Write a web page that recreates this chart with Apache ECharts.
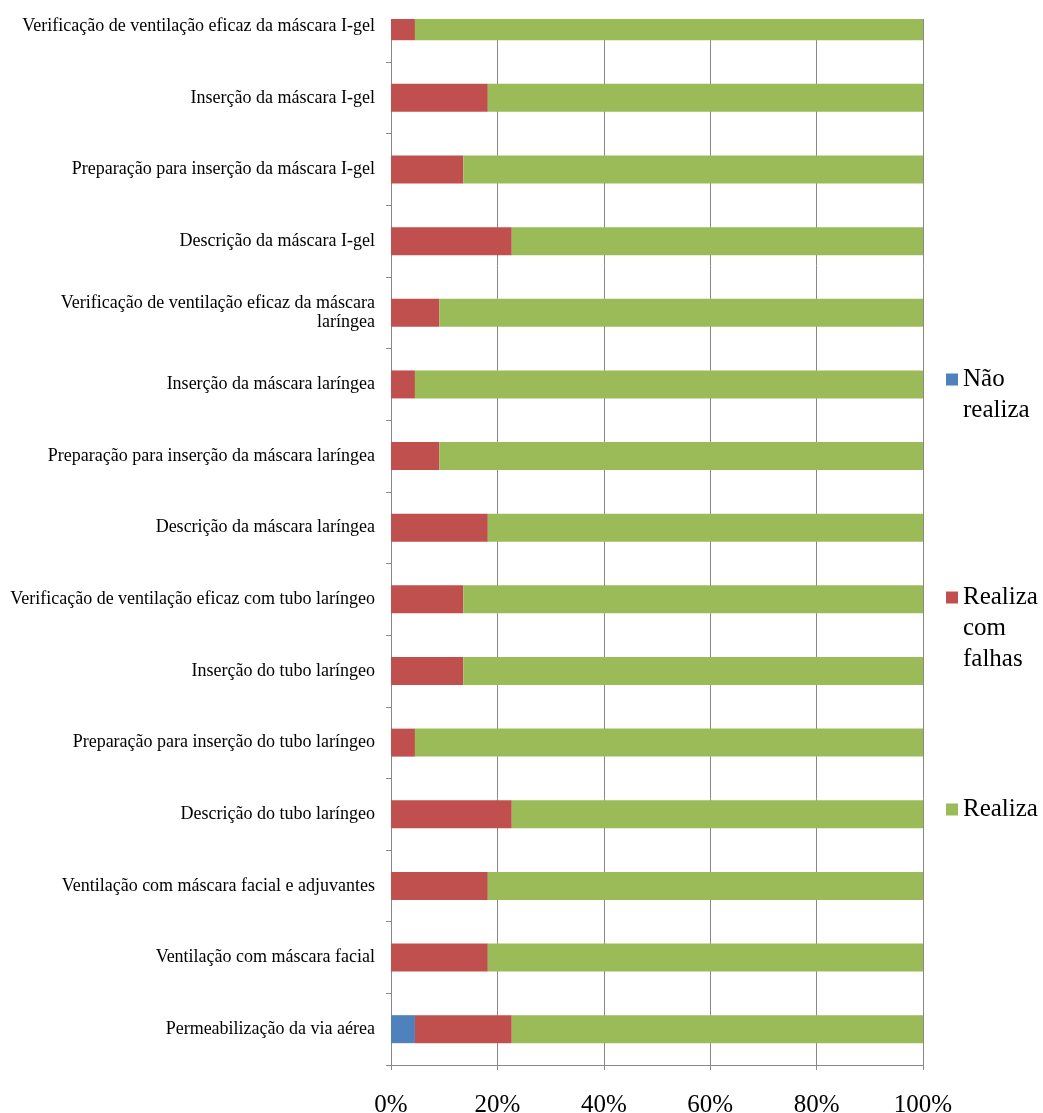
<!DOCTYPE html>
<html>
<head>
<meta charset="utf-8">
<script src="https://cdn.jsdelivr.net/npm/echarts@6/dist/echarts.min.js"></script>
<style>
html,body{margin:0;padding:0;background:#fff;}
#chart{width:1043px;height:1113px;}
</style>
</head>
<body>
<div id="chart"></div>
<script>
const categories = [
  'Verificação de ventilação eficaz da máscara I-gel',
  'Inserção da máscara I-gel',
  'Preparação para inserção da máscara I-gel',
  'Descrição da máscara I-gel',
  'Verificação de ventilação eficaz da máscara\nlaríngea',
  'Inserção da máscara laríngea',
  'Preparação para inserção da máscara laríngea',
  'Descrição da máscara laríngea',
  'Verificação de ventilação eficaz com tubo laríngeo',
  'Inserção do tubo laríngeo',
  'Preparação para inserção do tubo laríngeo',
  'Descrição do tubo laríngeo',
  'Ventilação com máscara facial e adjuvantes',
  'Ventilação com máscara facial',
  'Permeabilização da via aérea'
];
const naoRealiza = [0, 0, 0, 0, 0, 0, 0, 0, 0, 0, 0, 0, 0, 0, 4.5];
const realizaComFalhas = [4.5, 18.2, 13.6, 22.7, 9.1, 4.5, 9.1, 18.2, 13.6, 13.6, 4.5, 22.7, 18.2, 18.2, 18.2];
const realiza = [95.5, 81.8, 86.4, 77.3, 90.9, 95.5, 90.9, 81.8, 86.4, 86.4, 95.5, 77.3, 81.8, 81.8, 77.3];
const xTicks = [0, 20, 40, 60, 80, 100];

const serif = '"Liberation Serif","Times New Roman",serif';
const chart = echarts.init(document.getElementById('chart'));
function legendFor(name, text, top) {
  return {
    data: [name], orient: 'vertical', left: 946, top: top, padding: 0,
    itemWidth: 12, itemHeight: 12, icon: 'rect', itemGap: 0,
    formatter: () => text,
    textStyle: { fontFamily: serif, fontSize: 25, color: '#000', lineHeight: 31 }
  };
}
chart.setOption({
  animation: false,
  color: ['#4F81BD', '#C0504D', '#9BBB59'],
  grid: { left: 391, right: 120, top: -9.6, bottom: 48, containLabel: false, outerBoundsMode: 'none' },
  legend: [
    legendFor('Não realiza', ' \nNão\nrealiza', 333),
    legendFor('Realiza com falhas', ' \n \nRealiza\ncom\nfalhas', 520),
    legendFor('Realiza', 'Realiza', 794)
  ],
  graphic: [{
    type: 'rect', left: 380, top: 0, z: 100,
    shape: { width: 560, height: 19 }, style: { fill: '#fff' }
  }],
  xAxis: {
    type: 'value', min: 0, max: 100, interval: 20,
    axisLine: { show: true, lineStyle: { color: '#888', width: 1 } },
    axisTick: { show: true, length: 5, lineStyle: { color: '#888' } },
    splitLine: { show: true, lineStyle: { color: '#888', width: 1 } },
    axisLabel: { formatter: v => v + '%', fontFamily: serif, fontSize: 25, color: '#000', margin: 28 },
    data: xTicks
  },
  yAxis: {
    type: 'category', inverse: true, data: categories,
    axisLine: { show: true, lineStyle: { color: '#888', width: 1 } },
    axisTick: { show: true, length: 5, lineStyle: { color: '#888' } },
    axisLabel: { fontFamily: serif, fontSize: 18, color: '#000', margin: 16, lineHeight: 19 }
  },
  series: [
    { name: 'Não realiza', type: 'bar', stack: 't', barWidth: 28, data: naoRealiza },
    { name: 'Realiza com falhas', type: 'bar', stack: 't', barWidth: 28, data: realizaComFalhas },
    { name: 'Realiza', type: 'bar', stack: 't', barWidth: 28, data: realiza }
  ]
});
</script>
</body>
</html>
